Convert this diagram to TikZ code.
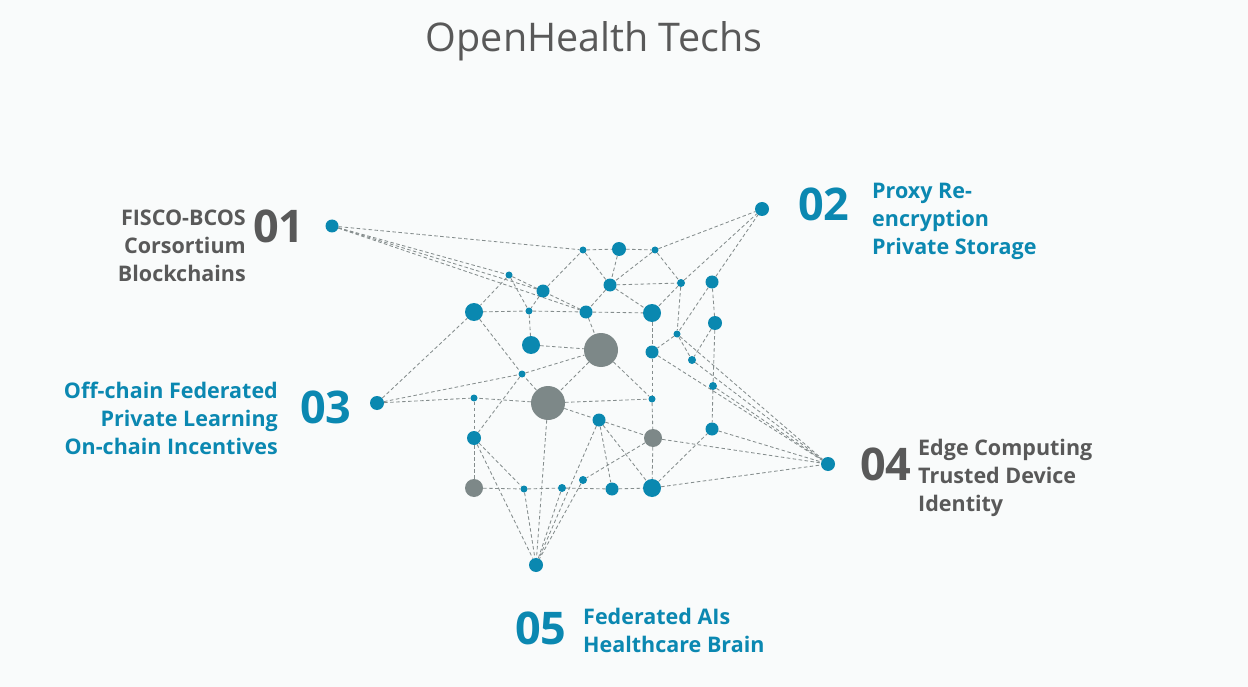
\documentclass[tikz,border=0pt]{standalone}
\usepackage{fontspec}
\setmainfont{Open Sans}
\definecolor{bgc}{HTML}{F9FBFB}
\definecolor{nblue}{HTML}{0A88B0}
\definecolor{ngray}{HTML}{7D8888}
\definecolor{tgray}{HTML}{595959}
\definecolor{tblue}{HTML}{0B88B1}
\definecolor{lgray}{HTML}{858D8D}
\pgfdeclarelayer{back}
\pgfdeclarelayer{bg}
\pgfsetlayers{back,bg,main}
\begin{document}
\begin{tikzpicture}[x=1pt,y=-1pt,
  bd/.style={circle,fill=nblue,inner sep=0pt,minimum size=#1},
  gd/.style={circle,fill=ngray,inner sep=0pt,minimum size=#1},
  ln/.style={draw=lgray,line width=0.85pt,dash pattern=on 3.5pt off 2.5pt},
  num/.style={font=\fontsize{45}{45}\selectfont\bfseries,inner sep=0pt},
  lbl/.style={font=\fontsize{21.5}{28}\selectfont\bfseries,inner sep=0pt}]
\begin{pgfonlayer}{back}
\fill[bgc] (0,0) rectangle (1248,687);
\end{pgfonlayer}
\useasboundingbox (0,0) rectangle (1248,687);
% title
\node[font=\fontsize{39.5}{39.5}\selectfont,text=tgray,inner sep=0pt] (title) at (594,41) {OpenHealth Techs};
% anchor nodes
\node[bd=13] (A1) at (332,226) {};
\node[bd=14] (A2) at (762,209) {};
\node[bd=14] (A3) at (377,403) {};
\node[bd=14] (A4) at (828,464) {};
\node[bd=14] (A5) at (536,565) {};
% inner nodes
\node[bd=7] (n1) at (583,250) {};
\node[bd=14] (n2) at (619,249) {};
\node[bd=7] (n3) at (655,250) {};
\node[bd=7] (n4) at (509,275) {};
\node[bd=13] (n5) at (543,291) {};
\node[bd=13] (n6) at (610,285) {};
\node[bd=8] (n7) at (681,283) {};
\node[bd=13] (n8) at (712,282) {};
\node[bd=18] (n9) at (474,312) {};
\node[bd=7] (n10) at (529,311) {};
\node[bd=13] (n11) at (586,312) {};
\node[bd=18] (n12) at (652,313) {};
\node[bd=14] (n13) at (715,323) {};
\node[bd=7] (n14) at (677,334) {};
\node[bd=18] (n15) at (531,345) {};
\node[gd=34] (G1) at (601,350) {};
\node[bd=13] (n16) at (652,352) {};
\node[bd=8] (n17) at (692,360) {};
\node[bd=7] (n18) at (522,374) {};
\node[bd=7] (n19) at (474,398) {};
\node[gd=34] (G2) at (548,403) {};
\node[bd=7] (n20) at (652,399) {};
\node[bd=8] (n21) at (713,386) {};
\node[bd=13] (n22) at (599,420) {};
\node[bd=14] (n23) at (474,438) {};
\node[gd=18] (G3) at (653,438) {};
\node[bd=13] (n24) at (712,429) {};
\node[gd=18] (G4) at (474,488) {};
\node[bd=7] (n25) at (524,489) {};
\node[bd=8] (n26) at (562,488) {};
\node[bd=8] (n27) at (583,480) {};
\node[bd=13] (n28) at (612,489) {};
\node[bd=18] (n29) at (652,488) {};
% connectors
\begin{pgfonlayer}{bg}
\foreach \a/\b in {A1/n1,A1/n4,A1/n5,A1/n11,n4/n11,n4/n10,n4/n9,n5/n10,n5/n1,
  n1/n2,n2/n3,n1/n6,n2/n6,n3/n6,n3/n7,n3/A2,n6/n7,n6/n11,n6/n12,n7/A2,n8/A2,
  n7/n12,n7/n14,n8/n13,n8/n14,n11/n12,n11/G1,n10/n11,n9/n10,n10/n15,n12/n16,
  n14/n16,n14/n17,n13/n17,n13/n21,n14/A4,n17/A4,n16/A4,n21/A4,
  n16/n20,G1/n20,G2/n20,n20/G3,n21/n24,n24/A4,G3/A4,n29/A4,n29/n24,
  n22/G3,n22/n29,n22/n28,G3/n27,G3/n29,n28/n29,n26/n28,n25/n26,G4/n25,
  n15/G1,A3/n9,A3/n18,A3/n19,n18/G1,n9/n18,n18/n23,G2/n18,G2/n19,G1/G2,G2/n22,G2/A5,
  n19/n23,n23/G4,n23/n25,n23/A5,n25/A5,n26/A5,n22/A5,n27/A5}
  \draw[ln] (\a) -- (\b);
\end{pgfonlayer}
% labels
\node[num,text=tgray,anchor=base west] (num1) at (253,243) {01};
\node[lbl,text=tgray,align=right,anchor=north east] (lab1) at (246,210) {FISCO-BCOS\\Corsortium\\Blockchains};
\node[num,text=tblue,anchor=base west] (num2) at (798,221) {02};
\node[lbl,text=tblue,align=left,anchor=north west] (lab2) at (872,183) {Proxy Re-\\encryption\\Private Storage};
\node[num,text=tblue,anchor=base west] (num3) at (300,423) {03};
\node[lbl,text=tblue,align=right,anchor=north east] (lab3) at (278,382) {Off-chain Federated\\Private Learning\\On-chain Incentives};
\node[num,text=tgray,anchor=base west] (num4) at (860,480) {04};
\node[lbl,text=tgray,align=left,anchor=north west] (lab4) at (918,439) {Edge Computing\\Trusted Device\\Identity};
\node[num,text=tblue,anchor=base west] (num5) at (515,644) {05};
\node[lbl,text=tblue,align=left,anchor=north west] (lab5) at (583,608) {Federated AIs\\Healthcare Brain};
\end{tikzpicture}
\end{document}
